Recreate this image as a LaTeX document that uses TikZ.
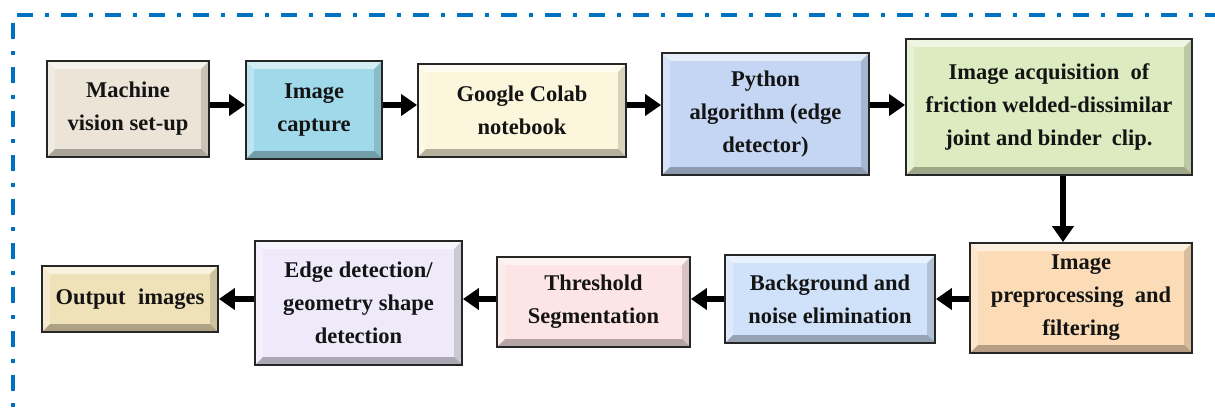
\documentclass[tikz,border=0pt]{standalone}
\usepackage{fontspec}
\setmainfont{Liberation Serif}
\usetikzlibrary{arrows.meta,calc}
\definecolor{frameblue}{RGB}{0,112,192}
\definecolor{cA}{RGB}{236,228,214}
\definecolor{cB}{RGB}{160,218,234}
\definecolor{cC}{RGB}{252,246,220}
\definecolor{cD}{RGB}{196,214,244}
\definecolor{cE}{RGB}{221,235,192}
\definecolor{cF}{RGB}{252,220,182}
\definecolor{cG}{RGB}{207,226,250}
\definecolor{cH}{RGB}{253,229,229}
\definecolor{cI}{RGB}{238,234,250}
\definecolor{cJ}{RGB}{240,226,184}
\definecolor{txt}{RGB}{20,20,20}
\tikzset{
  box/.style={draw=black!85, line width=1.8pt, inner sep=0pt, align=center,
    text=txt, font=\fontsize{22.5pt}{33pt}\selectfont\bfseries,
    path picture={
      \coordinate (pNW) at (path picture bounding box.north west);
      \coordinate (pSE) at (path picture bounding box.south east);
      \coordinate (pNE) at (pSE |- pNW);
      \coordinate (pSW) at (pNW |- pSE);
      \fill[white,opacity=.55] (pNW) -- (pNE) -- ($(pNE)+(-8pt,-8pt)$) -- ($(pNW)+(8pt,-8pt)$) -- cycle;
      \fill[white,opacity=.3] (pNW) -- ($(pNW)+(8pt,-8pt)$) -- ($(pSW)+(8pt,8pt)$) -- (pSW) -- cycle;
      \fill[black,opacity=.28] (pSW) -- (pSE) -- ($(pSE)+(-8pt,8pt)$) -- ($(pSW)+(8pt,8pt)$) -- cycle;
      \fill[black,opacity=.14] (pNE) -- ($(pNE)+(-8pt,-8pt)$) -- ($(pSE)+(-8pt,8pt)$) -- (pSE) -- cycle;
    }},
  arr/.style={line width=6.5pt, black, -{Triangle[width=21pt,length=16pt]}},
  frame/.style={frameblue, line width=3.5pt, dash pattern=on 16pt off 12pt on 4pt off 12pt}
}
\begin{document}
\begin{tikzpicture}[x=1pt,y=-1pt]
\useasboundingbox (0,0) rectangle (1215,412);
\fill[white] (0,0) rectangle (1215,412);
% frame
\draw[frame] (17,15) -- (1215,15);
\draw[frame] (13,23) -- (13,412);
% row helper coordinates
\coordinate (r1) at (0,105);
\coordinate (r2) at (0,299);
\coordinate (cd) at (1063,0);
% top row
\node[box, fill=cA, minimum width=162pt, minimum height=96pt] (n1) at (128,109) {Machine\\vision set-up};
\node[box, fill=cB, minimum width=136pt, minimum height=98pt] (n2) at (314,110) {Image\\capture};
\node[box, fill=cC, minimum width=208pt, minimum height=93pt] (n3) at (522,110.5) {Google Colab\\notebook};
\node[box, fill=cD, minimum width=207pt, minimum height=122pt] (n4) at (765.5,114) {Python\\algorithm (edge\\detector)};
\node[box, fill=cE, minimum width=286pt, minimum height=136pt] (n5) at (1049,107) {Image acquisition\hspace{0.25em} of\\friction welded-dissimilar\\joint and binder\hspace{0.2em} clip.};
% bottom row
\node[box, fill=cF, minimum width=222pt, minimum height=110pt] (n6) at (1081,298) {Image\\preprocessing\hspace{0.25em} and\\filtering};
\node[box, fill=cG, minimum width=210pt, minimum height=88pt] (n7) at (830,299) {Background and\\noise elimination};
\node[box, fill=cH, minimum width=193pt, minimum height=90pt] (n8) at (593.5,302) {Threshold\\Segmentation};
\node[box, fill=cI, minimum width=207pt, minimum height=124pt] (n9) at (358.5,303) {Edge detection/\\geometry shape\\detection};
\node[box, fill=cJ, minimum width=176pt, minimum height=66pt] (n10) at (130,299) {Output\hspace{0.3em} images};
% connectors
\draw[arr] (n1.east |- r1) -- (n2.west |- r1);
\draw[arr] (n2.east |- r1) -- (n3.west |- r1);
\draw[arr] (n3.east |- r1) -- (n4.west |- r1);
\draw[arr] (n4.east |- r1) -- (n5.west |- r1);
\draw[arr] (n5.south -| cd) -- (n6.north -| cd);
\draw[arr] (n6.west |- r2) -- (n7.east |- r2);
\draw[arr] (n7.west |- r2) -- (n8.east |- r2);
\draw[arr] (n8.west |- r2) -- (n9.east |- r2);
\draw[arr] (n9.west |- r2) -- (n10.east |- r2);
\end{tikzpicture}
\end{document}
